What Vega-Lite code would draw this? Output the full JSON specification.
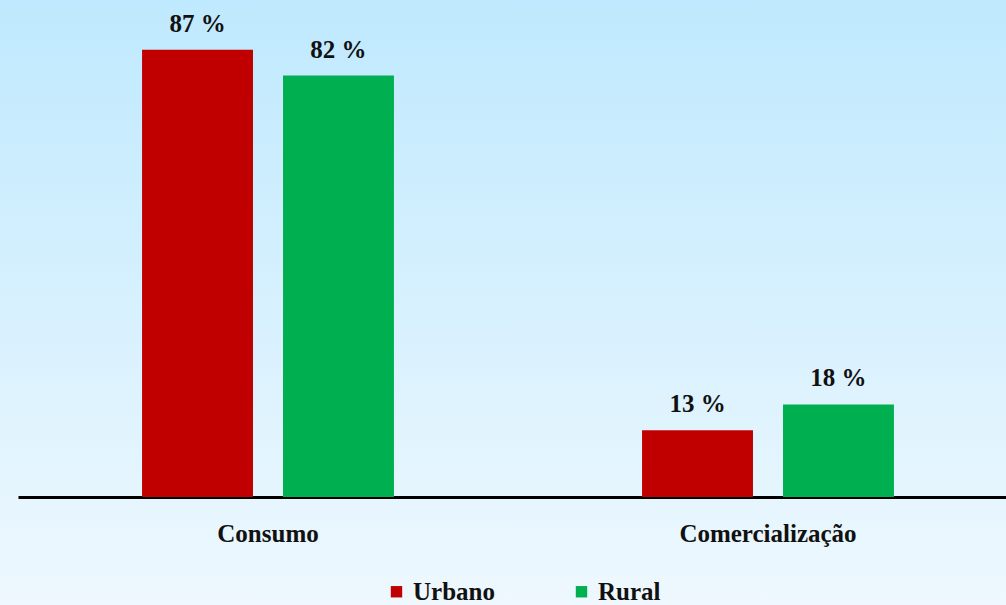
{
  "$schema": "https://vega.github.io/schema/vega-lite/v6.json",
  "width": 1006,
  "height": 605,
  "autosize": "none",
  "padding": 0,
  "background": "#eaf6fe",
  "config": {
    "view": {
      "stroke": null,
      "fill": {"gradient": "linear", "x1": 0, "y1": 0, "x2": 0, "y2": 1,
        "stops": [{"offset": 0, "color": "#bfe9fe"}, {"offset": 1, "color": "#eef8fe"}]}
    }
  },
  "data": {
    "values": [
      {"categoria": "Consumo", "area": "Urbano", "valor": 87, "rotulo": "87 %"},
      {"categoria": "Consumo", "area": "Rural", "valor": 82, "rotulo": "82 %"},
      {"categoria": "Comercialização", "area": "Urbano", "valor": 13, "rotulo": "13 %"},
      {"categoria": "Comercialização", "area": "Rural", "valor": 18, "rotulo": "18 %"}
    ]
  },
  "encoding": {
    "x": {
      "field": "categoria", "type": "nominal", "sort": ["Consumo", "Comercialização"],
      "scale": {"range": [18, 1018], "paddingInner": 0, "paddingOuter": 0},
      "axis": {
        "title": null, "orient": "bottom", "offset": -108, "domainColor": "#000000", "domainWidth": 3,
        "ticks": false, "tickSize": 0, "labelAngle": 0, "labelFont": "Liberation Serif", "labelFontWeight": "bold",
        "labelFontSize": 25, "labelColor": "#111111", "labelBaseline": "alphabetic", "labelPadding": 44
      }
    },
    "xOffset": {
      "field": "area", "type": "nominal", "sort": ["Urbano", "Rural"],
      "scale": {"paddingInner": 0.213, "paddingOuter": 0.88}
    },
    "y": {
      "field": "valor", "type": "quantitative",
      "scale": {"domain": [0, 96.7], "range": [497, 0], "nice": false, "zero": true},
      "axis": null
    }
  },
  "layer": [
    {
      "mark": {"type": "bar"},
      "encoding": {
        "color": {
          "field": "area", "type": "nominal", "sort": ["Urbano", "Rural"],
          "scale": {"domain": ["Urbano", "Rural"], "range": ["#c00000", "#00b050"]},
          "legend": {
            "title": null, "orient": "none", "direction": "horizontal", "legendX": 384, "legendY": 579,
            "symbolType": "square", "symbolSize": 130, "symbolStrokeWidth": 0, "symbolOpacity": 1,
            "labelFont": "Liberation Serif", "labelFontWeight": "bold", "labelFontSize": 25, "labelColor": "#111111",
            "labelOffset": 4, "columnPadding": 74
          }
        }
      }
    },
    {
      "mark": {"type": "text", "baseline": "alphabetic", "dy": -18, "font": "Liberation Serif", "fontWeight": "bold", "fontSize": 25, "color": "#111111"},
      "encoding": {"text": {"field": "rotulo"}}
    }
  ]
}
